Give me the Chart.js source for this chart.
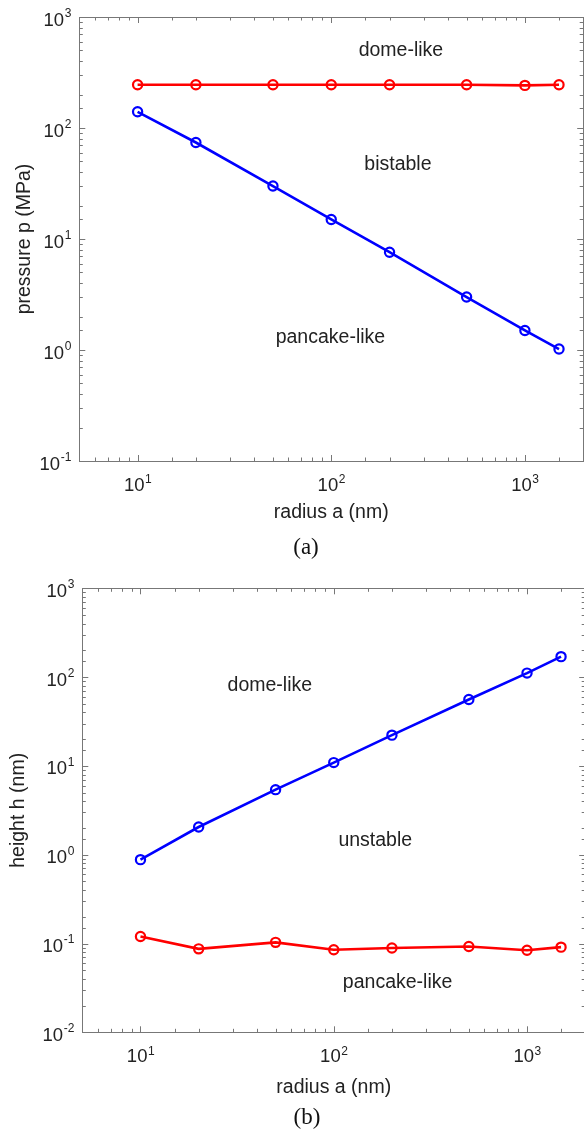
<!DOCTYPE html>
<html>
<head>
<meta charset="utf-8">
<script src="https://cdn.jsdelivr.net/npm/chart.js@4.4.1/dist/chart.umd.min.js"></script>
<style>
  html, body { margin: 0; padding: 0; background: #fff; overflow: hidden; }
  .panel { position: absolute; left: 0; }
  .tag { position: absolute; font-family: "Liberation Serif", "Times New Roman", serif; font-size: 23px; color: #111; transform: translate(-50%, -50%); }
</style>
</head>
<body>
<div class="panel" style="top:0;width:590px;height:566px"><canvas id="chartA"></canvas></div>
<div class="tag" style="left:306px;top:547px">(a)</div>
<div class="panel" style="top:566px;width:592px;height:567px"><canvas id="chartB"></canvas></div>
<div class="tag" style="left:307px;top:1117px">(b)</div>

<script>
// radius values shared by both panels (nm)
const radius = [10, 20, 50, 100, 200, 500, 1000, 1500];

// panel (a): critical pressure (MPa)
const pressureUpper = [245, 245, 245, 245, 245, 245, 242, 245];   // red
const pressureLower = [140, 74, 30, 15, 7.6, 3.0, 1.5, 1.02];     // blue

// panel (b): height (nm)
const heightUpper = [0.88, 2.05, 5.4, 10.9, 22.2, 56, 111, 170];  // blue
const heightLower = [0.120, 0.087, 0.103, 0.085, 0.089, 0.0925, 0.084, 0.091]; // red

// tick labels: decade exponents
const xExps = [1, 2, 3];
const yExpsA = [-1, 0, 1, 2, 3];
const yExpsB = [-2, -1, 0, 1, 2, 3];

// region labels (text, x, y in data units)
const regionsA = [['dome-like', 229, 495], ['bistable', 221, 46.5], ['pancake-like', 99, 1.29]];
const regionsB = [['dome-like', 46.7, 80], ['unstable', 164, 1.43], ['pancake-like', 214, 0.036]];

const FONT = '"Liberation Sans", Arial, Helvetica, sans-serif';
const TEXT = '#222';
const AXIS = '#777';

function pts(ys) {
    return radius.map((r, i) => ({ x: r, y: ys[i] }));
}

function isDecade(v) {
    const l = Math.log10(v);
    return Math.abs(l - Math.round(l)) < 1e-9;
}

// frame, inward tick marks, decade labels and region text
const decor = {
    id: 'decor',
    afterDatasetsDraw(chart, args, opts) {
        const { ctx, chartArea: a, scales: { x, y } } = chart;
        ctx.save();
        ctx.strokeStyle = AXIS;
        ctx.lineWidth = 1;
        ctx.strokeRect(Math.round(a.left) + 0.5, Math.round(a.top) + 0.5,
            Math.round(a.right - a.left), Math.round(a.bottom - a.top));

        ctx.beginPath();
        x.ticks.forEach(t => {
            const px = Math.round(x.getPixelForValue(t.value)) + 0.5;
            if (px < a.left + 1 || px > a.right - 1) return;
            const len = isDecade(t.value) ? 6 : 3.5;
            ctx.moveTo(px, a.bottom); ctx.lineTo(px, a.bottom - len);
            ctx.moveTo(px, a.top); ctx.lineTo(px, a.top + len);
        });
        y.ticks.forEach(t => {
            const py = Math.round(y.getPixelForValue(t.value)) + 0.5;
            if (py < a.top + 1 || py > a.bottom - 1) return;
            const len = isDecade(t.value) ? 6 : 3.5;
            ctx.moveTo(a.left, py); ctx.lineTo(a.left + len, py);
            ctx.moveTo(a.right, py); ctx.lineTo(a.right - len, py);
        });
        ctx.stroke();

        // decade labels with superscript exponent
        ctx.fillStyle = TEXT;
        ctx.textBaseline = 'middle';
        const big = '18.5px ' + FONT, small = '12px ' + FONT;
        opts.xExps.forEach(e => {
            const px = x.getPixelForValue(Math.pow(10, e));
            ctx.font = big; const w1 = ctx.measureText('10').width;
            ctx.font = small; const w2 = ctx.measureText(String(e)).width;
            const x0 = px - (w1 + w2) / 2;
            ctx.textAlign = 'left';
            ctx.font = big; ctx.fillText('10', x0, a.bottom + 25);
            ctx.font = small; ctx.fillText(String(e), x0 + w1 + 0.5, a.bottom + 19);
        });
        opts.yExps.forEach(e => {
            const py = y.getPixelForValue(Math.pow(10, e));
            const right = a.left - 8;
            ctx.font = small; const w2 = ctx.measureText(String(e)).width;
            ctx.textAlign = 'right';
            ctx.fillText(String(e), right, py - 3.5);
            ctx.font = big; ctx.fillText('10', right - w2 - 0.5, py + 3.5);
        });

        ctx.font = '19.5px ' + FONT;
        ctx.textAlign = 'center';
        opts.regions.forEach(([txt, vx, vy]) => {
            ctx.fillText(txt, x.getPixelForValue(vx), y.getPixelForValue(vy));
        });
        ctx.restore();
    }
};

function line(data, color) {
    return {
        data: data,
        showLine: true,
        borderColor: color,
        borderWidth: 2.6,
        pointRadius: 4.6,
        pointHoverRadius: 4.6,
        pointBorderWidth: 2.2,
        pointBorderColor: color,
        pointBackgroundColor: 'rgba(255,255,255,0)'
    };
}

function makeChart(id, p) {
    const ctx = document.getElementById(id).getContext('2d');
    return new Chart(ctx, {
        type: 'scatter',
        data: { datasets: p.datasets },
        plugins: [decor],
        options: {
            responsive: true,
            maintainAspectRatio: false,
            animation: false,
            layout: { padding: { top: p.padTop, right: p.padRight, left: 0, bottom: 0 } },
            plugins: {
                legend: { display: false },
                tooltip: { enabled: false },
                decor: { xExps: xExps, yExps: p.yExps, regions: p.regions }
            },
            scales: {
                x: {
                    type: 'logarithmic',
                    min: 5,
                    max: 2000,
                    grid: { display: false },
                    border: { display: false },
                    ticks: { display: false },
                    title: {
                        display: true, text: 'radius a (nm)', color: TEXT,
                        font: { family: FONT, size: 19.5 },
                        padding: { top: 0, bottom: p.xTitlePad }
                    },
                    afterFit: s => { s.height = p.xHeight; }
                },
                y: {
                    type: 'logarithmic',
                    min: p.yMin,
                    max: 1000,
                    grid: { display: false },
                    border: { display: false },
                    ticks: { display: false },
                    title: {
                        display: true, text: p.yTitle, color: TEXT,
                        font: { family: FONT, size: 19.5 },
                        padding: { top: p.yTitlePad, bottom: 0 }
                    },
                    afterFit: s => { s.width = p.yWidth; }
                }
            }
        }
    });
}

makeChart('chartA', {
    datasets: [line(pts(pressureUpper), '#ff0000'), line(pts(pressureLower), '#0000ff')],
    yMin: 0.1, yExps: yExpsA, regions: regionsA,
    yTitle: 'pressure p (MPa)',
    padTop: 17, padRight: 4, xHeight: 105, yWidth: 79.3,
    xTitlePad: 41.3, yTitlePad: 13.3
});

makeChart('chartB', {
    datasets: [line(pts(heightUpper), '#0000ff'), line(pts(heightLower), '#ff0000')],
    yMin: 0.01, yExps: yExpsB, regions: regionsB,
    yTitle: 'height h (nm)',
    padTop: 22.3, padRight: 4, xHeight: 100.7, yWidth: 82.3,
    xTitlePad: 33.3, yTitlePad: 7.3
});
</script>
</body>
</html>
